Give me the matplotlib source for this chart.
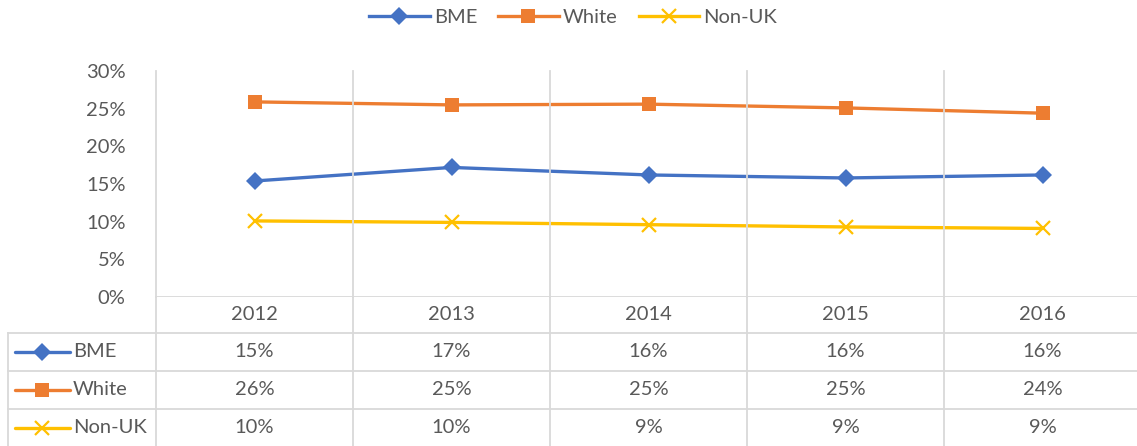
#!/usr/bin/env python3
"""Line chart with a data table underneath (Excel style)."""

import matplotlib

matplotlib.use("Agg")
import matplotlib.pyplot as plt
from matplotlib.lines import Line2D

years = ["2012", "2013", "2014", "2015", "2016"]
bme = [15.4, 17.2, 16.2, 15.8, 16.2]
white = [25.9, 25.5, 25.6, 25.1, 24.4]
non_uk = [10.1, 9.9, 9.6, 9.3, 9.1]
table_bme = ["15%", "17%", "16%", "16%", "16%"]
table_white = ["26%", "25%", "25%", "25%", "24%"]
table_non_uk = ["10%", "10%", "9%", "9%", "9%"]

series = [
    ("BME", bme, table_bme, "#4472C4", "D", 9),
    ("White", white, table_white, "#ED7D31", "s", 10),
    ("Non-UK", non_uk, table_non_uk, "#FFC000", "x", 10),
]

TXT = "#595959"
GRID = "#D9D9D9"
FS = 14.5
plt.rcParams["font.family"] = ["Lato", "DejaVu Sans"]

W, H = 1137, 446
fig = plt.figure(figsize=(W / 100, H / 100), dpi=100)


def box(x0, y0, x1, y1):
    # pixel box (top-left origin) -> figure fraction rect
    return [x0 / W, 1 - y1 / H, (x1 - x0) / W, (y1 - y0) / H]


ax = fig.add_axes(box(156, 71, 1141, 297))
n = len(years)
xs = list(range(n))
for name, vals, _, color, mk, ms in series:
    ax.plot(xs, vals, color=color, lw=2.4, marker=mk, ms=ms,
            mew=1.6 if mk == "x" else 0, mec=color, label=name,
            solid_capstyle="round")
ax.set_xlim(-0.5, n - 0.5)
ax.set_ylim(0, 30)
ax.set_yticks(range(0, 31, 5))
ax.set_yticklabels([f"{v}%" for v in range(0, 31, 5)])
ax.tick_params(axis="y", length=0, labelsize=FS, labelcolor=TXT, pad=22)
ax.set_xticks([])
for s in ax.spines.values():
    s.set_visible(False)
for b in range(n + 1):
    ax.axvline(b - 0.5, color=GRID, lw=1.3, clip_on=False)
ax.axhline(0, color=GRID, lw=1.3)

# data table (y in pixel rows, top-down)
rows = [297, 333, 371, 409, 447]
tab = fig.add_axes(box(156, rows[0], 1141, rows[-1]))
tab.set_xlim(-0.5, n - 0.5)
tab.set_ylim(rows[-1], rows[0])
tab.axis("off")
left = -0.5 - 148 / 197
for b in range(n + 1):
    tab.plot([b - 0.5, b - 0.5], [rows[0], rows[-1]], color=GRID, lw=1.3, clip_on=False)
tab.plot([left, left], [rows[1], rows[-1]], color=GRID, lw=1.3, clip_on=False)
for r in rows[1:-1]:
    tab.plot([left, n - 0.5], [r, r], color=GRID, lw=1.3, clip_on=False)
mid = [(a + b) / 2 for a, b in zip(rows[:-1], rows[1:])]
for i, y in enumerate(years):
    tab.text(i, mid[0], y, ha="center", va="center", fontsize=FS, color=TXT)
for r, (name, _, labels, color, mk, ms) in enumerate(series, start=1):
    ym = mid[r]
    for i, lab in enumerate(labels):
        tab.text(i, ym, lab, ha="center", va="center", fontsize=FS, color=TXT)
    x0, x1 = left + 7 / 197, left + 62 / 197
    tab.plot([x0, x1], [ym, ym], color=color, lw=2.4, clip_on=False,
             solid_capstyle="round")
    tab.plot([(x0 + x1) / 2], [ym], color=color, marker=mk, ms=ms,
             mew=1.6 if mk == "x" else 0, mec=color, clip_on=False)
    tab.text(left + 65 / 197, ym, name, ha="left", va="center",
             fontsize=FS, color=TXT)

handles = [Line2D([], [], color=c, lw=2.4, marker=m, ms=s,
                  mew=1.6 if m == "x" else 0, mec=c)
           for _, _, _, c, m, s in series]
fig.legend(handles, [s[0] for s in series], loc="center", ncol=3,
           bbox_to_anchor=(573 / W, 1 - 17 / H), frameon=False,
           fontsize=FS, labelcolor=TXT, handlelength=3.0,
           handletextpad=0.2, columnspacing=1.05)

fig.savefig("out.png", dpi=100)
